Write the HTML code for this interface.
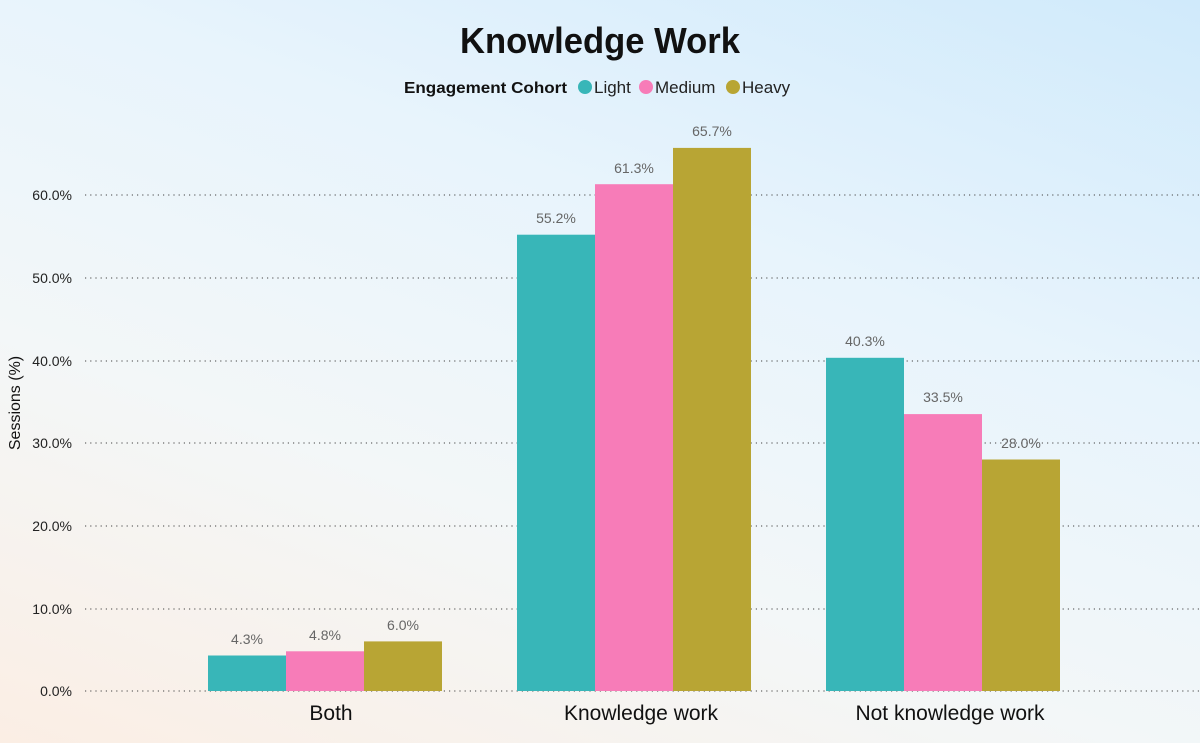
<!DOCTYPE html>
<html><head><meta charset="utf-8"><style>
body{margin:0;width:1200px;height:743px;overflow:hidden;font-family:"Liberation Sans",sans-serif;}
.bg{position:absolute;left:0;top:0;width:1200px;height:743px;background:linear-gradient(200deg,#d0eafb 0%,#e8f4fc 35%,#f3f7f8 65%,#fbeee4 100%);}
</style></head><body><div class="bg"></div>
<svg width="1200" height="743" style="position:absolute;left:0;top:0" font-family="Liberation Sans, sans-serif">
<text x="460" y="53" font-size="36" font-weight="bold" fill="#111" textLength="280" lengthAdjust="spacingAndGlyphs">Knowledge Work</text>
<text x="404" y="93" font-size="16" font-weight="bold" fill="#111" textLength="163" lengthAdjust="spacingAndGlyphs">Engagement Cohort</text>
<circle cx="585" cy="87" r="7" fill="#38b6b8"/><text x="594" y="93" font-size="17" fill="#222">Light</text>
<circle cx="646" cy="87" r="7" fill="#f77cb8"/><text x="655" y="93" font-size="17" fill="#222">Medium</text>
<circle cx="733" cy="87" r="7" fill="#b8a534"/><text x="742" y="93" font-size="17" fill="#222">Heavy</text>
<g stroke="#444" stroke-dasharray="1.2,4" stroke-width="1">
<line x1="85" x2="1200" y1="195" y2="195"/><line x1="85" x2="1200" y1="278" y2="278"/>
<line x1="85" x2="1200" y1="361" y2="361"/><line x1="85" x2="1200" y1="443" y2="443"/>
<line x1="85" x2="1200" y1="526" y2="526"/><line x1="85" x2="1200" y1="609" y2="609"/>
<line x1="85" x2="1200" y1="691" y2="691"/></g>
<g font-size="14" fill="#222" text-anchor="end">
<text x="72" y="200">60.0%</text><text x="72" y="283">50.0%</text><text x="72" y="366">40.0%</text>
<text x="72" y="448">30.0%</text><text x="72" y="531">20.0%</text><text x="72" y="614">10.0%</text><text x="72" y="696">0.0%</text></g>
<text transform="translate(20,403) rotate(-90)" text-anchor="middle" font-size="16" fill="#111">Sessions (%)</text>
<rect x="208" y="655.5" width="78" height="35.5" fill="#38b6b8"/>
<rect x="286" y="651.3" width="78" height="39.7" fill="#f77cb8"/>
<rect x="364" y="641.4" width="78" height="49.6" fill="#b8a534"/>
<rect x="517" y="234.7" width="78" height="456.3" fill="#38b6b8"/>
<rect x="595" y="184.2" width="78" height="506.8" fill="#f77cb8"/>
<rect x="673" y="147.9" width="78" height="543.1" fill="#b8a534"/>
<rect x="826" y="357.8" width="78" height="333.2" fill="#38b6b8"/>
<rect x="904" y="414.1" width="78" height="276.9" fill="#f77cb8"/>
<rect x="982" y="459.5" width="78" height="231.5" fill="#b8a534"/>
<g font-size="14" fill="#666" text-anchor="middle">
<text x="247" y="644">4.3%</text><text x="325" y="640">4.8%</text><text x="403" y="630">6.0%</text>
<text x="556" y="223">55.2%</text><text x="634" y="173">61.3%</text><text x="712" y="136">65.7%</text>
<text x="865" y="346">40.3%</text><text x="943" y="402">33.5%</text><text x="1021" y="448">28.0%</text></g>
<g font-size="21" fill="#111" text-anchor="middle">
<text x="331" y="720">Both</text><text x="641" y="720">Knowledge work</text><text x="950" y="720">Not knowledge work</text></g>
</svg></body></html>
